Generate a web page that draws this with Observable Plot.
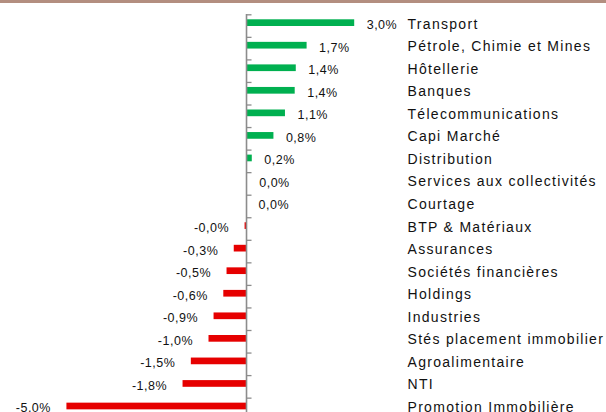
<!DOCTYPE html>
<html>
<head>
<meta charset="utf-8">
<script src="https://cdn.jsdelivr.net/npm/d3@7"></script>
<script src="https://cdn.jsdelivr.net/npm/@observablehq/plot@0.6"></script>
<style>
  html, body { margin: 0; padding: 0; background: #fff; }
  #topbar { position: absolute; left: 0; top: 0; width: 606px; height: 3px; background: #b38e80; }
  #chart { position: absolute; left: 0; top: 0; }
</style>
</head>
<body>
<div id="chart"></div>
<div id="topbar"></div>
<script>
const categories = [
  "Transport", "Pétrole, Chimie et Mines", "Hôtellerie", "Banques",
  "Télecommunications", "Capi Marché", "Distribution", "Services aux collectivités",
  "Courtage", "BTP & Matériaux", "Assurances", "Sociétés financières",
  "Holdings", "Industries", "Stés placement immobilier", "Agroalimentaire",
  "NTI", "Promotion Immobilière"
];
const values = [
  3.0, 1.68, 1.38, 1.35, 1.08, 0.76, 0.16, 0.02,
  0.0, -0.04, -0.34, -0.54, -0.63, -0.9, -1.04, -1.53,
  -1.76, -4.98
];

const data = categories.map((name, i) => ({name, value: values[i]}));
const fmt = v => (v < 0 ? "-" : "") + Math.abs(v).toFixed(1).replace(".", ",") + "%";
const green = "#00b050", red = "#e60000", axisGray = "#8c8c8c";

const rowStep = 22.55;
const svg = Plot.plot({
  width: 606,
  height: 412,
  marginLeft: 0,
  marginRight: 200,
  marginTop: 14,
  marginBottom: 0,
  x: {domain: [-5, 3], range: [65.7, 354.2], axis: null},
  y: {domain: categories, range: [14.3, 14.3 + categories.length * rowStep], padding: 0, round: false, axis: null},
  style: {fontFamily: "'Liberation Sans', Arial, sans-serif", color: "#111", background: "#fff"},
  marks: [
    Plot.barX(data, {x: "value", y: "name", fill: d => d.value >= 0 ? green : red, insetTop: 5, insetBottom: 10.85}),
    Plot.ruleX([0], {stroke: axisGray, strokeWidth: 1.6}),
    Plot.ruleY(categories, {y: d => d, x1: 0, x2: 0, insetRight: -5.5, dy: -rowStep / 2, stroke: axisGray, strokeWidth: 1.3}),
    Plot.text(data.filter(d => d.value >= 0), {x: "value", y: "name", text: d => fmt(d.value), textAnchor: "start", dx: 12, dy: -1, fontSize: 12.5, fill: "#111"}),
    Plot.text(data.filter(d => d.value < 0), {x: "value", y: "name", text: d => fmt(d.value), textAnchor: "end", dx: -16, dy: -1, fontSize: 12.5, fill: "#111"}),
    Plot.text(data, {y: "name", text: "name", frameAnchor: "right", textAnchor: "start", dx: 1, dy: -2, fontSize: 14, fill: "#111"})
  ]
});

const groups = svg.querySelectorAll("g[aria-label='text']");
groups.forEach((g, i) => {
  g.setAttribute("letter-spacing", i < 2 ? "0.5px" : "1.3px");
});
document.getElementById("chart").appendChild(svg);
</script>
</body>
</html>
